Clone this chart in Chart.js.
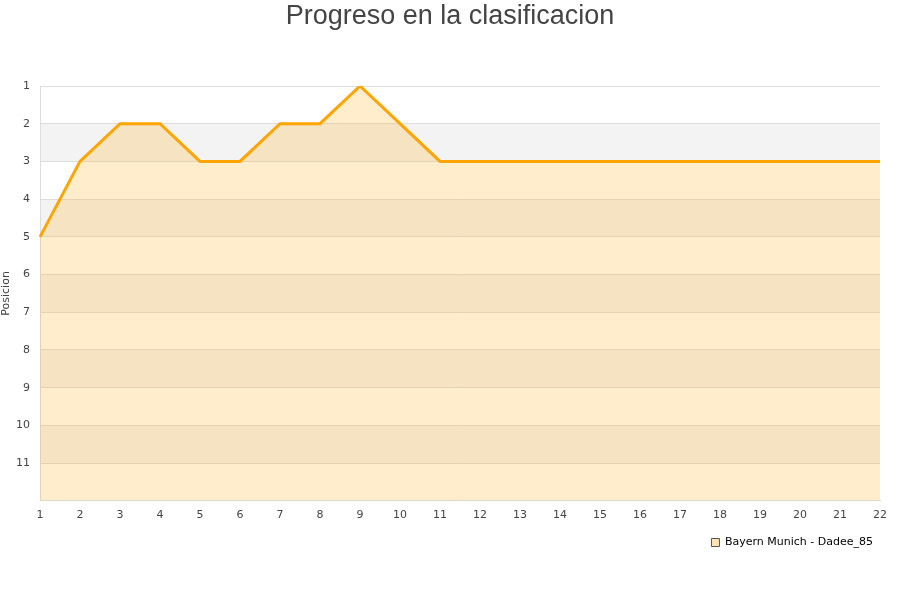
<!DOCTYPE html>
<html>
<head>
<meta charset="utf-8">
<script src="https://cdn.jsdelivr.net/npm/chart.js@4"></script>
<style>
  body { margin: 0; background: #fff; }
  #wrap { width: 900px; height: 600px; }
</style>
</head>
<body>
<div id="wrap"><canvas id="chart"></canvas></div>
<script>
// jornadas y posiciones
var jornadas = ["1","2","3","4","5","6","7","8","9","10","11","12","13","14","15","16","17","18","19","20","21","22"];
var posiciones = [5, 3, 2, 2, 3, 3, 2, 2, 1, 2, 3, 3, 3, 3, 3, 3, 3, 3, 3, 3, 3, 3];
var serieNombre = "Bayern Munich - Dadee_85";
var titulo = "Progreso en la clasificacion";

// bandas alternas blanco / gris detras de la grafica
var bandas = {
    id: "bandas",
    beforeDraw: function (chart) {
        var ctx = chart.ctx, area = chart.chartArea, y = chart.scales.y;
        ctx.save();
        for (var i = 1; i < 12; i++) {
            var y1 = y.getPixelForValue(i), y2 = y.getPixelForValue(i + 1);
            ctx.fillStyle = (i % 2 == 1) ? "#ffffff" : "#f3f3f3";
            ctx.fillRect(area.left, y1, area.right - area.left, y2 - y1);
        }
        ctx.restore();
    }
};

// titulo centrado en todo el ancho del canvas
var tituloPlugin = {
    id: "tituloPlugin",
    afterDraw: function (chart) {
        var ctx = chart.ctx;
        ctx.save();
        ctx.font = "27px 'Liberation Sans'";
        ctx.fillStyle = "#444";
        ctx.textAlign = "center";
        ctx.textBaseline = "middle";
        ctx.fillText(titulo, chart.width / 2, 17);
        ctx.restore();
    }
};

var ctx = document.getElementById("chart").getContext("2d");
new Chart(ctx, {
    type: "line",
    data: {
        labels: jornadas,
        datasets: [{
            label: serieNombre,
            data: posiciones,
            borderColor: "#ffa500",
            backgroundColor: "rgba(255,165,0,0.2)",
            borderWidth: 3,
            fill: { value: 12 },
            tension: 0,
            pointRadius: 0
        }]
    },
    options: {
        responsive: true,
        maintainAspectRatio: false,
        animation: false,
        layout: { padding: { left: 0, right: 20, top: 86, bottom: 42 } },
        plugins: {
            title: { display: false },
            legend: {
                position: "bottom",
                align: "end",
                labels: {
                    color: "#000",
                    boxWidth: 8,
                    boxHeight: 8,
                    font: { family: "DejaVu Sans", size: 11 },
                    padding: 7,
                    generateLabels: function (chart) {
                        return [{
                            text: serieNombre,
                            fillStyle: "#ffe4b2",
                            strokeStyle: "#555",
                            lineWidth: 1,
                            fontColor: "#000",
                            datasetIndex: 0
                        }];
                    }
                }
            },
            tooltip: { enabled: false }
        },
        scales: {
            x: {
                offset: false,
                grid: { display: false, drawTicks: false },
                border: { color: "#ddd" },
                ticks: { color: "#444", font: { family: "DejaVu Sans", size: 11 }, maxRotation: 0, autoSkip: false, padding: 8 }
            },
            y: {
                reverse: true,
                min: 1,
                max: 12,
                afterFit: function (s) { s.width = 40; },
                grid: { color: "#dddddd", drawTicks: false },
                border: { color: "#ddd" },
                title: { display: true, text: "Posicion", color: "#444", font: { family: "DejaVu Sans", size: 11 }, padding: 0 },
                ticks: {
                    stepSize: 1,
                    color: "#444",
                    font: { family: "DejaVu Sans", size: 11 },
                    padding: 10,
                    callback: function (v) { return v < 12 ? v : ""; }
                }
            }
        }
    },
    plugins: [bandas, tituloPlugin]
});
</script>
</body>
</html>
